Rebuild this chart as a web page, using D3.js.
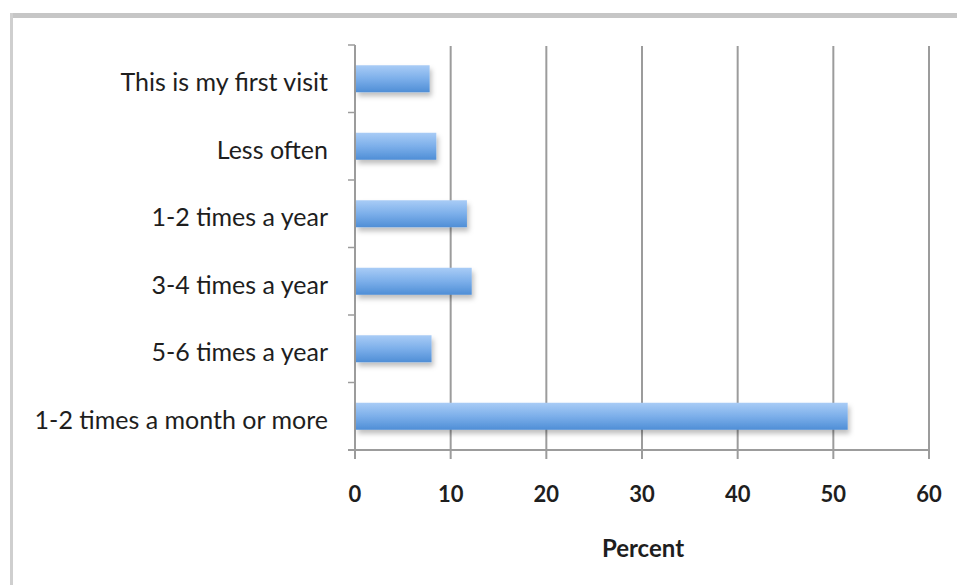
<!DOCTYPE html>
<html>
<head>
<meta charset="utf-8">
<script src="https://cdn.jsdelivr.net/npm/d3@7"></script>
<style>
html,body{margin:0;padding:0;background:#fff;}
svg{display:block;}
</style>
</head>
<body>
<svg id="chart" width="957" height="585"></svg>
<script>
const categories = ["This is my first visit","Less often","1-2 times a year","3-4 times a year","5-6 times a year","1-2 times a month or more"];
const values = [7.8, 8.5, 11.7, 12.2, 8.0, 51.5];
const xTicks = [0,10,20,30,40,50,60];
const xTitle = "Percent";

const svg = d3.select("#chart");
const W = 957, H = 585;
const m = {left:355, right:28, top:45, bottom:135};

const defs = svg.append("defs");
const grad = defs.append("linearGradient").attr("id","barGrad").attr("x1",0).attr("y1",0).attr("x2",0).attr("y2",1);
grad.append("stop").attr("offset","0%").attr("stop-color","#a9ccf6");
grad.append("stop").attr("offset","50%").attr("stop-color","#7cafea");
grad.append("stop").attr("offset","100%").attr("stop-color","#4f8ed6");
const f = defs.append("filter").attr("id","shadow").attr("x","-5%").attr("y","-30%").attr("width","115%").attr("height","190%");
f.append("feDropShadow").attr("dx",2).attr("dy",4).attr("stdDeviation",2.5).attr("flood-color","#000").attr("flood-opacity",0.25);

// frame borders
svg.append("rect").attr("x",10).attr("y",13).attr("width",W-10).attr("height",5).attr("fill","#c6c6c6");
svg.append("rect").attr("x",10).attr("y",13).attr("width",3).attr("height",H-13).attr("fill","#cfcfcf");

const x = d3.scaleLinear().domain([0,60]).range([m.left, W-m.right]);
const y = d3.scaleBand().domain(categories).range([m.top, 450]).paddingInner(0.6).paddingOuter(0.3);
const yb = d3.scaleBand().domain(categories).range([m.top, 450]);

const font = "Lato, 'Open Sans', sans-serif";
const gridColor = "#9c9c9c";

// gridlines
svg.append("g").selectAll("line").data(xTicks.filter(d=>d>0)).join("line")
  .attr("x1",d=>x(d)).attr("x2",d=>x(d)).attr("y1",46).attr("y2",459)
  .attr("stroke",gridColor).attr("stroke-width",2);

// x axis line
svg.append("line").attr("x1",348).attr("x2",x(60)).attr("y1",450).attr("y2",450).attr("stroke",gridColor).attr("stroke-width",2);
// y axis
svg.append("line").attr("x1",x(0)).attr("x2",x(0)).attr("y1",45).attr("y2",459).attr("stroke",gridColor).attr("stroke-width",2);
// y ticks at band boundaries
const bounds = categories.map(c=>yb(c));
svg.append("g").selectAll("line").data(bounds).join("line")
  .attr("x1",348).attr("x2",x(0)).attr("y1",d=>d).attr("y2",d=>d)
  .attr("stroke",gridColor).attr("stroke-width",1.5);

// bars
svg.append("g").selectAll("rect").data(categories).join("rect")
  .attr("x",x(0)+1).attr("y",(d)=>y(d))
  .attr("width",(d,i)=>x(values[i])-x(0)-1).attr("height",y.bandwidth())
  .attr("fill","url(#barGrad)").attr("filter","url(#shadow)");

// category labels
svg.append("g").selectAll("text").data(categories).join("text")
  .attr("x",328).attr("y",d=>yb(d)+yb.bandwidth()/2)
  .attr("dy","0.5em").attr("text-anchor","end")
  .attr("font-family",font).attr("font-size",25).attr("fill","#1e1e1e")
  .text(d=>d);

// x tick labels
svg.append("g").selectAll("text").data(xTicks).join("text")
  .attr("x",d=>x(d)).attr("y",494).attr("dy","0.36em").attr("text-anchor","middle")
  .attr("font-family",font).attr("font-size",22).attr("font-weight","bold").attr("fill","#1e1e1e")
  .text(d=>d);

// axis title
svg.append("text").attr("x",643).attr("y",548).attr("dy","0.36em").attr("text-anchor","middle")
  .attr("font-family",font).attr("font-size",24).attr("font-weight","bold").attr("fill","#1e1e1e")
  .text(xTitle);
</script>
</body>
</html>
